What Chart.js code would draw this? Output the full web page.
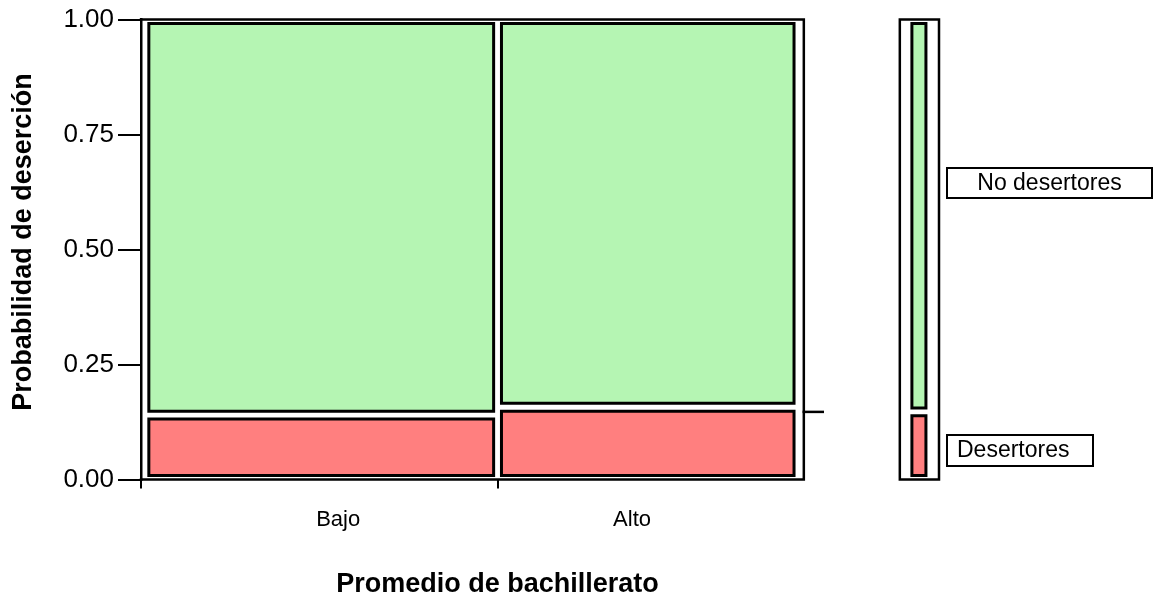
<!DOCTYPE html>
<html>
<head>
<meta charset="utf-8">
<script src="https://cdn.jsdelivr.net/npm/chart.js@4.4.1/dist/chart.umd.min.js"></script>
<style>
  html, body { margin: 0; padding: 0; background: #fff; }
  #wrap { width: 1154px; height: 602px; }
</style>
</head>
<body>
<div id="wrap"><canvas id="mosaico" width="1154" height="602"></canvas></div>
<script>
// ---------- Datos ----------
const categorias = ["Bajo", "Alto"];          // promedio de bachillerato
const proporcionGrupo = [0.54, 0.46];         // ancho de cada columna
const tasaDesercion = [0.14, 0.157];          // prob. de deserción por grupo
const tasaGlobal = 0.147;                     // columna marginal (derecha)
const resultados = ["Desertores", "No desertores"];
const yTicks = [0, 0.25, 0.5, 0.75, 1];

// ---------- Estilo / layout ----------
const VERDE = "#b5f5b3";
const ROJO = "#ff7f7f";
const FONT = "'Liberation Sans', Arial, sans-serif";
const INSET_X = 0.006;   // hueco entre celdas (unidades del eje)
const INSET_Y = 0.0086;
const MARCO_IZQ = -0.006;
const MARCO_DER = 1.009;
const MARG_X0 = 1.156, MARG_X1 = 1.216;   // columna marginal
const MARG_B0 = 1.1685, MARG_B1 = 1.202;
const POS_ETIQ = [0.296, 0.746];          // donde JMP pone "Bajo" / "Alto"

// ---------- Helpers ----------
// order alto = se dibuja primero (debajo)
function rellenoCelda(x0, x1, y0, y1, color) {
  return {
    data: [{ x: x0 + INSET_X, y: y1 - INSET_Y }, { x: x1 - INSET_X, y: y1 - INSET_Y }],
    fill: { value: y0 + INSET_Y },
    backgroundColor: color,
    borderWidth: 0,
    pointRadius: 0,
    clip: false,
    order: 3,
  };
}

function bordeCelda(x0, x1, y0, y1) {
  const a = x0 + INSET_X, b = x1 - INSET_X, c = y0 + INSET_Y, d = y1 - INSET_Y;
  return linea([[a, c], [a, d], [b, d], [b, c], [a, c]], "#000", 3, 2);
}

function linea(pts, color, w, order = 1) {
  return {
    data: pts.map(([x, y]) => ({ x, y })),
    fill: false,
    borderColor: color,
    borderWidth: w,
    borderCapStyle: "square",
    pointRadius: 0,
    clip: false,
    order,
  };
}

// ---------- Datasets ----------
const datasets = [];
let acum = 0;
const cortes = [];
categorias.forEach((cat, i) => {
  const x0 = acum, x1 = acum + proporcionGrupo[i];
  acum = x1;
  cortes.push(x1);
  const t = tasaDesercion[i];
  datasets.push(rellenoCelda(x0, x1, 0, t, ROJO));
  datasets.push(rellenoCelda(x0, x1, t, 1, VERDE));
  datasets.push(bordeCelda(x0, x1, 0, t));
  datasets.push(bordeCelda(x0, x1, t, 1));
});

// columna marginal
datasets.push(rellenoCelda(MARG_B0, MARG_B1, 0, tasaGlobal, ROJO));
datasets.push(rellenoCelda(MARG_B0, MARG_B1, tasaGlobal, 1, VERDE));
datasets.push(bordeCelda(MARG_B0, MARG_B1, 0, tasaGlobal));
datasets.push(bordeCelda(MARG_B0, MARG_B1, tasaGlobal, 1));
datasets.push(linea([[MARG_X0, 1], [MARG_X0, 0], [MARG_X1, 0], [MARG_X1, 1], [MARG_X0, 1]], "#000", 2.5));

// marco del gráfico principal
datasets.push(linea([[MARCO_IZQ, 1], [MARCO_DER, 1], [MARCO_DER, 0], [MARCO_IZQ, 0]], "#000", 2.5));
datasets.push(linea([[MARCO_DER, tasaGlobal], [MARCO_DER + 0.029, tasaGlobal]], "#000", 2.5));

// ticks del eje x: bordes de columnas + posiciones de etiqueta
const xTickValues = [MARCO_IZQ, cortes[0], ...POS_ETIQ].sort((a, b) => a - b);

// ---------- Títulos y etiquetas de la columna marginal ----------
const textos = {
  id: "textos",
  afterDraw(chart) {
    const { ctx, chartArea, scales } = chart;
    ctx.save();
    ctx.fillStyle = "#000";
    ctx.textBaseline = "middle";
    ctx.textAlign = "center";
    ctx.font = "bold 27px " + FONT;
    // título eje x, centrado en el corte entre columnas
    ctx.fillText("Promedio de bachillerato", scales.x.getPixelForValue(cortes[0]), 585);
    // título eje y
    ctx.save();
    ctx.translate(23.6, 242);
    ctx.rotate(-Math.PI / 2);
    ctx.fillText("Probabilidad de deserción", 0, 0);
    ctx.restore();

    const left = chartArea.right + 8;
    ctx.font = "23px " + FONT;
    ctx.lineWidth = 2;
    ctx.strokeStyle = "#000";
    // No desertores
    ctx.fillStyle = "#fff";
    ctx.fillRect(left, 168, 205, 30);
    ctx.strokeRect(left, 168, 205, 30);
    ctx.fillStyle = "#000";
    ctx.fillText(resultados[1], left + 102.5, 184);
    // Desertores
    ctx.fillStyle = "#fff";
    ctx.fillRect(left, 435, 146, 31);
    ctx.strokeRect(left, 435, 146, 31);
    ctx.fillStyle = "#000";
    ctx.textAlign = "left";
    ctx.fillText(resultados[0], left + 10, 451);
    ctx.restore();
  },
};

new Chart(document.getElementById("mosaico"), {
  type: "line",
  data: { datasets },
  plugins: [textos],
  options: {
    responsive: false,
    animation: false,
    events: [],
    layout: { padding: { left: 0, right: 215, top: 17, bottom: 0 } },
    plugins: { legend: { display: false }, tooltip: { enabled: false } },
    scales: {
      x: {
        type: "linear",
        min: MARCO_IZQ,
        max: MARG_X1,
        afterBuildTicks: (s) => { s.ticks = xTickValues.map((v) => ({ value: v })); },
        afterFit: (s) => { s.height = 122.5; },
        ticks: {
          autoSkip: false,
          maxRotation: 0,
          padding: 18,
          color: "#000",
          font: { family: FONT, size: 22 },
          callback: (v) => {
            const k = POS_ETIQ.indexOf(v);
            return k >= 0 ? categorias[k] : "";
          },
        },
        grid: {
          display: true,
          drawOnChartArea: false,
          drawTicks: true,
          tickLength: 9,
          lineWidth: 2,
          tickColor: (c) => (POS_ETIQ.includes(c.tick.value) ? "rgba(0,0,0,0)" : "#000"),
        },
        border: { display: false },
      },
      y: {
        type: "linear",
        min: 0,
        max: 1,
        afterBuildTicks: (s) => { s.ticks = yTicks.map((v) => ({ value: v })); },
        afterFit: (s) => { s.width = 141; },
        ticks: {
          padding: 4,
          color: "#000",
          font: { family: FONT, size: 26 },
          callback: (v) => Number(v).toFixed(2),
        },
        grid: {
          display: true,
          drawOnChartArea: false,
          drawTicks: true,
          tickLength: 23,
          lineWidth: 2,
          tickColor: "#000",
        },
        border: { display: true, color: "#000", width: 2.5 },
      },
    },
  },
});
</script>
</body>
</html>
